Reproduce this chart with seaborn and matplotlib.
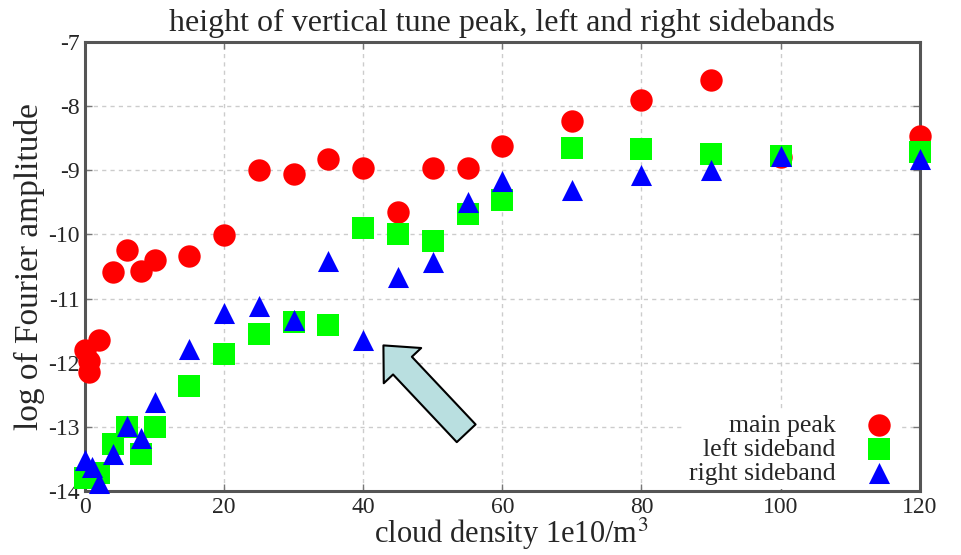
import matplotlib
matplotlib.use("Agg")
import matplotlib.pyplot as plt
import seaborn as sns
import pandas as pd

# cloud density (1e10/m^3) and log of Fourier amplitude for each peak
main_x = [0, 0.5, 0.5, 2, 4, 6, 8, 10, 15, 20, 25, 30, 35, 40, 45, 50, 55, 60, 70, 80, 90, 100, 120]
main_y = [-11.8, -11.97, -12.15, -11.65, -10.59, -10.24, -10.57, -10.4, -10.33, -10.01, -8.99, -9.05,
          -8.82, -8.96, -9.65, -8.96, -8.96, -8.62, -8.23, -7.9, -7.6, -8.8, -8.47]

left_x = [0, 2, 4, 6, 8, 10, 15, 20, 25, 30, 35, 40, 45, 50, 55, 60, 70, 80, 90, 100, 120]
left_y = [-13.8, -13.72, -13.27, -13.0, -13.42, -13.0, -12.37, -11.86, -11.55, -11.37, -11.41,
          -9.9, -10.0, -10.1, -9.68, -9.47, -8.66, -8.67, -8.74, -8.77, -8.72]

right_x = [0, 1, 2, 4, 6, 8, 10, 15, 20, 25, 30, 35, 40, 45, 50, 55, 60, 70, 80, 90, 100, 120]
right_y = [-13.52, -13.63, -13.88, -13.42, -12.98, -13.17, -12.62, -11.79, -11.22, -11.12, -11.33,
           -10.42, -11.64, -10.67, -10.43, -9.5, -9.17, -9.31, -9.07, -8.99, -8.77, -8.82]

series_names = ["main peak", "left sideband", "right sideband"]
x_ticks = [0, 20, 40, 60, 80, 100, 120]
y_ticks = [-14, -13, -12, -11, -10, -9, -8, -7]

df = pd.concat([
    pd.DataFrame({"density": main_x, "amp": main_y, "series": series_names[0]}),
    pd.DataFrame({"density": left_x, "amp": left_y, "series": series_names[1]}),
    pd.DataFrame({"density": right_x, "amp": right_y, "series": series_names[2]}),
], ignore_index=True)

sns.set_style("ticks")
plt.rcParams["font.family"] = ["Liberation Serif", "DejaVu Serif"]
plt.rcParams["mathtext.fontset"] = "stix"
plt.rcParams["axes.unicode_minus"] = False

fig = plt.figure(figsize=(9.62, 5.55), dpi=100)
ax = fig.add_axes([0.0884, 0.1153, 0.8676, 0.8090])

palette = {"main peak": "#ff0000", "left sideband": "#00ff00", "right sideband": "#0000ff"}
markers = {"main peak": "o", "left sideband": "s", "right sideband": "^"}
sizes = {"main peak": 260, "left sideband": 230, "right sideband": 230}

for name in series_names:
    sub = df[df["series"] == name]
    sns.scatterplot(data=sub, x="density", y="amp", color=palette[name], marker=markers[name],
                    s=sizes[name], linewidth=0, ax=ax, label=name, clip_on=False, zorder=3)

ax.set_xlim(0, 120)
ax.set_ylim(-14, -7)
ax.set_xticks(x_ticks)
ax.set_yticks(y_ticks)
ax.set_xticklabels([str(v) for v in x_ticks])
ax.set_yticklabels([str(v) for v in y_ticks])
ax.tick_params(axis="both", which="major", direction="in", length=5, width=1, color="#777777",
               labelsize=17, top=True, right=True, pad=4)
ax.grid(True, linestyle=(0, (3, 3)), color="#cccccc", linewidth=1, zorder=0)
ax.set_axisbelow(True)
for sp in ax.spines.values():
    sp.set_color("#555555")
    sp.set_linewidth(2.2)

ax.set_xlabel(r"cloud density 1e10/m$^3$", fontsize=22)
ax.xaxis.set_label_coords(0.51, -0.116, transform=ax.transAxes)
ax.xaxis.label.set_va("baseline")
ax.set_ylabel("log of Fourier amplitude", fontsize=24, labelpad=2)
ax.set_title("height of vertical tune peak, left and right sidebands", fontsize=23, pad=8)

handles, labels = ax.get_legend_handles_labels()
leg = ax.legend(handles, labels, loc="lower right", markerfirst=False, fontsize=18.5,
                frameon=True, framealpha=1, facecolor="white", edgecolor="none",
                handletextpad=1.1, labelspacing=0.05, borderpad=0.15, handlelength=1.2,
                bbox_to_anchor=(0.99, -0.024))
leg.get_frame().set_linewidth(0)
leg.set_zorder(2.4)

# block arrow pointing at the 40e10 right-sideband point
ax.annotate("", xy=(42.9, -11.73), xytext=(54.8, -13.1),
            arrowprops=dict(arrowstyle="simple,head_length=1.0,head_width=1.85,tail_width=0.93",
                            fc="#b9dfe0", ec="black", lw=1.5, shrinkA=0, shrinkB=0,
                            mutation_scale=20), zorder=5)

fig.savefig("out.png", dpi=100)
